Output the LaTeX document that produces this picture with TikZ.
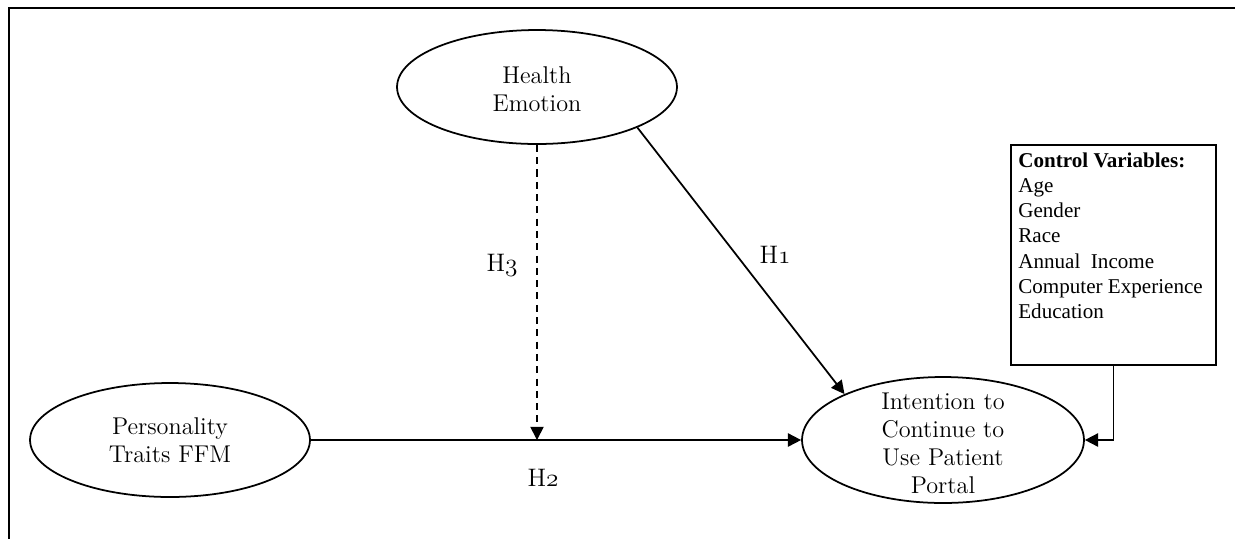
\documentclass[tikz,border=0pt]{standalone}
\usepackage{fontspec}
\newfontfamily\timesfont{Liberation Serif}
\usetikzlibrary{shapes.geometric,arrows.meta}
\newcommand{\osn}[1]{{\usefont{OML}{cmm}{m}{it}#1}}
\begin{document}
\begin{tikzpicture}[x=0.02cm,y=-0.02cm,
  lat/.style={ellipse,draw,line width=1pt,inner sep=0pt},
  lattext/.style={align=center,font=\fontsize{13.8}{15.9}\selectfont,inner sep=0pt},
  conn/.style={line width=1pt,-{Triangle[length=7.5pt,width=7.5pt]}},
  hlab/.style={font=\fontsize{14.4}{16}\selectfont,inner sep=0pt},
  ctext/.style={align=left,font=\timesfont\fontsize{12}{14.3}\selectfont,inner sep=0pt}]
\useasboundingbox (0,0) rectangle (1235,539);
\draw[line width=1pt] (1235,8) -- (9,8) -- (9,539);
% latent constructs
\node[lat,minimum width=5.6cm,minimum height=2.28cm,
  label={[lattext,yshift=-0.04cm]center:{Health\\Emotion}}] (he) at (537,87) {};
\node[lat,minimum width=5.6cm,minimum height=2.28cm,
  label={[lattext]center:{Personality\\Traits FFM}}] (pe) at (170,440) {};
\node[lat,minimum width=5.64cm,minimum height=2.52cm,
  label={[lattext,yshift=-0.06cm]center:{Intention to\\Continue to\\Use Patient\\Portal}}] (ie) at (943,440) {};
% control variables
\node[draw,line width=0.8pt,minimum width=4.1cm,minimum height=4.4cm,inner sep=0pt] (cv) at (1113.5,255) {};
\node[ctext,anchor=north west] (cvt) at (1018,152.6)
  {\textbf{Control Variables:}\\Age\\Gender\\Race\\Annual~ Income\\Computer Experience\\Education};
% connectors
\coordinate (m) at (he.south |- pe.east);
\draw[conn] (pe.east) -- (ie.west);
\draw[conn,dash pattern=on 4pt off 3pt] (he.south) -- (m);
\draw[conn] (he.-22) -- (ie.155);
\draw[conn] (cv.south) |- (ie.east);
% hypothesis labels
\node[hlab] (h1) at (775,255) {H\osn{1}};
\node[hlab] (h2) at (543,478) {H\osn{2}};
\node[hlab] (h3) at (502,265) {H\osn{3}};
\end{tikzpicture}
\end{document}
